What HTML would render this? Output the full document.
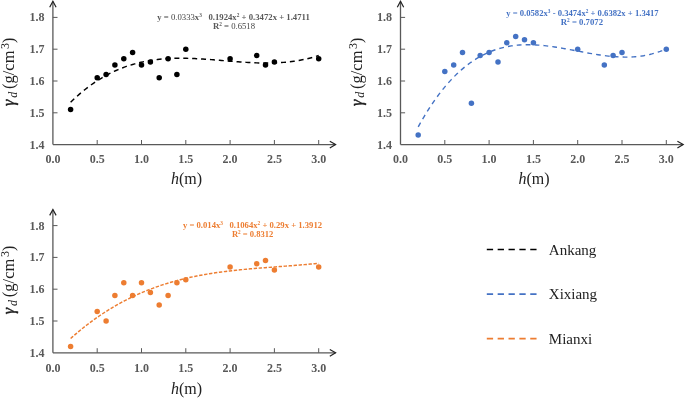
<!DOCTYPE html>
<html><head><meta charset="utf-8"><style>
html,body{margin:0;padding:0;background:#fff;}
svg{display:block;will-change:transform;}
text{font-family:"Liberation Serif",serif;}
.tl{font-size:12px;font-weight:bold;fill:#595959;}
.at{font-size:16px;fill:#222;}
.eq{font-size:9px;font-weight:bold;white-space:pre;}
.lg{font-size:15px;fill:#222;}
</style></head><body>
<svg width="685" height="398" viewBox="0 0 685 398">
<rect width="685" height="398" fill="#fff"/>
<path d="M52.9 144.6V1.6M52.9 144.6H335.5" stroke="#595959" stroke-width="1.3" fill="none"/>
<path d="M49.7 7.2L52.9 1.3L56.1 7.2" stroke="#222" stroke-width="1.2" fill="none"/>
<path d="M329.8 141.2L335.6 144.6L329.8 148.0" stroke="#222" stroke-width="1.2" fill="none"/>
<path d="M52.9 112.8h4.6M52.9 81.0h4.6M52.9 49.2h4.6M52.9 17.4h4.6M97.2 144.6v-4.6M141.5 144.6v-4.6M185.8 144.6v-4.6M230.1 144.6v-4.6M274.4 144.6v-4.6M318.7 144.6v-4.6" stroke="#595959" stroke-width="1" fill="none"/>
<text x="44.5" y="148.5" text-anchor="end" class="tl">1.4</text>
<text x="44.5" y="116.7" text-anchor="end" class="tl">1.5</text>
<text x="44.5" y="84.9" text-anchor="end" class="tl">1.6</text>
<text x="44.5" y="53.1" text-anchor="end" class="tl">1.7</text>
<text x="44.5" y="21.3" text-anchor="end" class="tl">1.8</text>
<text x="52.9" y="163.4" text-anchor="middle" class="tl">0.0</text>
<text x="97.2" y="163.4" text-anchor="middle" class="tl">0.5</text>
<text x="141.5" y="163.4" text-anchor="middle" class="tl">1.0</text>
<text x="185.8" y="163.4" text-anchor="middle" class="tl">1.5</text>
<text x="230.1" y="163.4" text-anchor="middle" class="tl">2.0</text>
<text x="274.4" y="163.4" text-anchor="middle" class="tl">2.5</text>
<text x="318.7" y="163.4" text-anchor="middle" class="tl">3.0</text>
<text x="186.5" y="184.0" text-anchor="middle" class="at"><tspan font-style="italic">h</tspan>(m)</text>
<g transform="translate(14.2 106.5) rotate(-90)" class="at"><text x="0.4" y="0" font-style="italic" font-size="16" stroke="#222" stroke-width="0.45">γ</text><text x="8.7" y="2.6" font-style="italic" font-size="12">d</text><text x="17.5" y="0" font-size="16.5">(g/cm</text><text x="57.6" y="-5" font-size="12">3</text><text x="63.6" y="0">)</text></g>
<polyline points="70.62,102.27 72.69,100.27 74.75,98.32 76.82,96.43 78.89,94.60 80.96,92.83 83.02,91.11 85.09,89.44 87.16,87.83 89.23,86.28 91.29,84.77 93.36,83.32 95.43,81.92 97.50,80.57 99.56,79.27 101.63,78.01 103.70,76.80 105.76,75.64 107.83,74.53 109.90,73.46 111.97,72.44 114.03,71.46 116.10,70.52 118.17,69.62 120.24,68.77 122.30,67.96 124.37,67.18 126.44,66.44 128.51,65.75 130.57,65.09 132.64,64.46 134.71,63.87 136.77,63.32 138.84,62.80 140.91,62.31 142.98,61.85 145.04,61.43 147.11,61.03 149.18,60.67 151.25,60.34 153.31,60.03 155.38,59.75 157.45,59.50 159.52,59.27 161.58,59.07 163.65,58.89 165.72,58.74 167.78,58.61 169.85,58.50 171.92,58.41 173.99,58.34 176.05,58.29 178.12,58.26 180.19,58.25 182.26,58.25 184.32,58.27 186.39,58.31 188.46,58.36 190.53,58.42 192.59,58.50 194.66,58.59 196.73,58.69 198.79,58.80 200.86,58.92 202.93,59.05 205.00,59.19 207.06,59.33 209.13,59.48 211.20,59.64 213.27,59.80 215.33,59.96 217.40,60.13 219.47,60.30 221.54,60.48 223.60,60.65 225.67,60.82 227.74,60.99 229.80,61.16 231.87,61.33 233.94,61.50 236.01,61.66 238.07,61.81 240.14,61.96 242.21,62.11 244.28,62.25 246.34,62.37 248.41,62.49 250.48,62.60 252.55,62.70 254.61,62.79 256.68,62.87 258.75,62.93 260.81,62.98 262.88,63.01 264.95,63.03 267.02,63.04 269.08,63.02 271.15,62.99 273.22,62.94 275.29,62.87 277.35,62.78 279.42,62.67 281.49,62.54 283.56,62.38 285.62,62.20 287.69,62.00 289.76,61.77 291.82,61.52 293.89,61.24 295.96,60.93 298.03,60.59 300.09,60.23 302.16,59.83 304.23,59.41 306.30,58.95 308.36,58.46 310.43,57.94 312.50,57.38 314.57,56.79 316.63,56.16 318.70,55.50" fill="none" stroke="#000000" stroke-width="1.45" stroke-dasharray="5 3.9"/>
<circle cx="70.6" cy="109.6" r="2.75" fill="#000000"/>
<circle cx="97.2" cy="77.8" r="2.75" fill="#000000"/>
<circle cx="106.1" cy="74.6" r="2.75" fill="#000000"/>
<circle cx="114.9" cy="65.1" r="2.75" fill="#000000"/>
<circle cx="123.8" cy="58.7" r="2.75" fill="#000000"/>
<circle cx="132.6" cy="52.4" r="2.75" fill="#000000"/>
<circle cx="141.5" cy="65.1" r="2.75" fill="#000000"/>
<circle cx="150.4" cy="61.9" r="2.75" fill="#000000"/>
<circle cx="159.2" cy="77.8" r="2.75" fill="#000000"/>
<circle cx="168.1" cy="58.7" r="2.75" fill="#000000"/>
<circle cx="176.9" cy="74.6" r="2.75" fill="#000000"/>
<circle cx="185.8" cy="49.2" r="2.75" fill="#000000"/>
<circle cx="230.1" cy="58.7" r="2.75" fill="#000000"/>
<circle cx="256.7" cy="55.6" r="2.75" fill="#000000"/>
<circle cx="265.5" cy="65.1" r="2.75" fill="#000000"/>
<circle cx="274.4" cy="61.9" r="2.75" fill="#000000"/>
<circle cx="318.7" cy="58.7" r="2.75" fill="#000000"/>
<text x="157.3" y="19.7" class="eq" textLength="152.5" lengthAdjust="spacingAndGlyphs" fill="#595959">y<tspan font-weight="normal" fill="#444"> = 0.0333</tspan>x<tspan baseline-shift="super" font-size="5.5">3</tspan>   0.1924x<tspan baseline-shift="super" font-size="5.5">2</tspan> + 0.3472x + 1.4711</text>
<text x="213" y="29.2" class="eq" textLength="42" lengthAdjust="spacingAndGlyphs" fill="#595959">R<tspan baseline-shift="super" font-size="5.5">2</tspan><tspan font-weight="normal" fill="#444"> = 0.6518</tspan></text>
<path d="M400.5 144.6V1.6M400.5 144.6H683.1" stroke="#595959" stroke-width="1.3" fill="none"/>
<path d="M397.3 7.2L400.5 1.3L403.7 7.2" stroke="#222" stroke-width="1.2" fill="none"/>
<path d="M677.4 141.2L683.2 144.6L677.4 148.0" stroke="#222" stroke-width="1.2" fill="none"/>
<path d="M400.5 112.8h4.6M400.5 81.0h4.6M400.5 49.2h4.6M400.5 17.4h4.6M444.8 144.6v-4.6M489.1 144.6v-4.6M533.4 144.6v-4.6M577.7 144.6v-4.6M622.0 144.6v-4.6M666.3 144.6v-4.6" stroke="#595959" stroke-width="1" fill="none"/>
<text x="392.1" y="148.5" text-anchor="end" class="tl">1.4</text>
<text x="392.1" y="116.7" text-anchor="end" class="tl">1.5</text>
<text x="392.1" y="84.9" text-anchor="end" class="tl">1.6</text>
<text x="392.1" y="53.1" text-anchor="end" class="tl">1.7</text>
<text x="392.1" y="21.3" text-anchor="end" class="tl">1.8</text>
<text x="400.5" y="163.4" text-anchor="middle" class="tl">0.0</text>
<text x="444.8" y="163.4" text-anchor="middle" class="tl">0.5</text>
<text x="489.1" y="163.4" text-anchor="middle" class="tl">1.0</text>
<text x="533.4" y="163.4" text-anchor="middle" class="tl">1.5</text>
<text x="577.7" y="163.4" text-anchor="middle" class="tl">2.0</text>
<text x="622.0" y="163.4" text-anchor="middle" class="tl">2.5</text>
<text x="666.3" y="163.4" text-anchor="middle" class="tl">3.0</text>
<text x="534.1" y="184.0" text-anchor="middle" class="at"><tspan font-style="italic">h</tspan>(m)</text>
<g transform="translate(361.8 106.5) rotate(-90)" class="at"><text x="0.4" y="0" font-style="italic" font-size="16" stroke="#222" stroke-width="0.45">γ</text><text x="8.7" y="2.6" font-style="italic" font-size="12">d</text><text x="17.5" y="0" font-size="16.5">(g/cm</text><text x="57.6" y="-5" font-size="12">3</text><text x="63.6" y="0">)</text></g>
<polyline points="418.22,126.82 420.29,123.12 422.35,119.52 424.42,116.03 426.49,112.65 428.56,109.36 430.62,106.18 432.69,103.10 434.76,100.11 436.83,97.23 438.89,94.43 440.96,91.74 443.03,89.13 445.10,86.62 447.16,84.19 449.23,81.86 451.30,79.61 453.36,77.45 455.43,75.37 457.50,73.37 459.57,71.46 461.63,69.62 463.70,67.87 465.77,66.19 467.84,64.58 469.90,63.06 471.97,61.60 474.04,60.22 476.11,58.90 478.17,57.66 480.24,56.48 482.31,55.37 484.37,54.32 486.44,53.33 488.51,52.41 490.58,51.55 492.64,50.74 494.71,50.00 496.78,49.31 498.85,48.67 500.91,48.09 502.98,47.56 505.05,47.08 507.12,46.64 509.18,46.26 511.25,45.92 513.32,45.63 515.38,45.38 517.45,45.17 519.52,45.00 521.59,44.87 523.65,44.78 525.72,44.73 527.79,44.71 529.86,44.72 531.92,44.77 533.99,44.84 536.06,44.95 538.13,45.08 540.19,45.24 542.26,45.43 544.33,45.64 546.39,45.87 548.46,46.12 550.53,46.39 552.60,46.68 554.66,46.98 556.73,47.30 558.80,47.63 560.87,47.98 562.93,48.34 565.00,48.70 567.07,49.08 569.14,49.46 571.20,49.84 573.27,50.23 575.34,50.63 577.40,51.02 579.47,51.41 581.54,51.80 583.61,52.19 585.67,52.57 587.74,52.95 589.81,53.32 591.88,53.68 593.94,54.03 596.01,54.37 598.08,54.70 600.15,55.01 602.21,55.30 604.28,55.58 606.35,55.84 608.41,56.08 610.48,56.30 612.55,56.49 614.62,56.66 616.68,56.80 618.75,56.92 620.82,57.01 622.89,57.07 624.95,57.09 627.02,57.09 629.09,57.05 631.16,56.97 633.22,56.86 635.29,56.71 637.36,56.52 639.42,56.28 641.49,56.01 643.56,55.69 645.63,55.32 647.69,54.91 649.76,54.45 651.83,53.94 653.90,53.38 655.96,52.76 658.03,52.09 660.10,51.37 662.17,50.59 664.23,49.75 666.30,48.85" fill="none" stroke="#4472C4" stroke-width="1.4" stroke-dasharray="4.8 4.1"/>
<circle cx="418.2" cy="135.1" r="2.75" fill="#4472C4"/>
<circle cx="444.8" cy="71.5" r="2.75" fill="#4472C4"/>
<circle cx="453.7" cy="65.1" r="2.75" fill="#4472C4"/>
<circle cx="462.5" cy="52.4" r="2.75" fill="#4472C4"/>
<circle cx="471.4" cy="103.3" r="2.75" fill="#4472C4"/>
<circle cx="480.2" cy="55.6" r="2.75" fill="#4472C4"/>
<circle cx="489.1" cy="52.4" r="2.75" fill="#4472C4"/>
<circle cx="498.0" cy="61.9" r="2.75" fill="#4472C4"/>
<circle cx="506.8" cy="42.8" r="2.75" fill="#4472C4"/>
<circle cx="515.7" cy="36.5" r="2.75" fill="#4472C4"/>
<circle cx="524.5" cy="39.7" r="2.75" fill="#4472C4"/>
<circle cx="533.4" cy="42.8" r="2.75" fill="#4472C4"/>
<circle cx="577.7" cy="49.2" r="2.75" fill="#4472C4"/>
<circle cx="604.3" cy="65.1" r="2.75" fill="#4472C4"/>
<circle cx="613.1" cy="55.6" r="2.75" fill="#4472C4"/>
<circle cx="622.0" cy="52.4" r="2.75" fill="#4472C4"/>
<circle cx="666.3" cy="49.2" r="2.75" fill="#4472C4"/>
<text x="506.2" y="16.2" class="eq" textLength="152.5" lengthAdjust="spacingAndGlyphs" fill="#4472C4">y = 0.0582x<tspan baseline-shift="super" font-size="5.5">3</tspan> - 0.3474x<tspan baseline-shift="super" font-size="5.5">2</tspan> + 0.6382x + 1.3417</text>
<text x="560.8" y="25.3" class="eq" textLength="42.2" lengthAdjust="spacingAndGlyphs" fill="#4472C4">R<tspan baseline-shift="super" font-size="5.5">2</tspan> = 0.7072</text>
<path d="M52.9 352.8V209.8M52.9 352.8H335.5" stroke="#595959" stroke-width="1.3" fill="none"/>
<path d="M49.7 215.4L52.9 209.5L56.1 215.4" stroke="#222" stroke-width="1.2" fill="none"/>
<path d="M329.8 349.4L335.6 352.8L329.8 356.2" stroke="#222" stroke-width="1.2" fill="none"/>
<path d="M52.9 321.0h4.6M52.9 289.2h4.6M52.9 257.4h4.6M52.9 225.6h4.6M97.2 352.8v-4.6M141.5 352.8v-4.6M185.8 352.8v-4.6M230.1 352.8v-4.6M274.4 352.8v-4.6M318.7 352.8v-4.6" stroke="#595959" stroke-width="1" fill="none"/>
<text x="44.5" y="356.7" text-anchor="end" class="tl">1.4</text>
<text x="44.5" y="324.9" text-anchor="end" class="tl">1.5</text>
<text x="44.5" y="293.1" text-anchor="end" class="tl">1.6</text>
<text x="44.5" y="261.3" text-anchor="end" class="tl">1.7</text>
<text x="44.5" y="229.5" text-anchor="end" class="tl">1.8</text>
<text x="52.9" y="371.6" text-anchor="middle" class="tl">0.0</text>
<text x="97.2" y="371.6" text-anchor="middle" class="tl">0.5</text>
<text x="141.5" y="371.6" text-anchor="middle" class="tl">1.0</text>
<text x="185.8" y="371.6" text-anchor="middle" class="tl">1.5</text>
<text x="230.1" y="371.6" text-anchor="middle" class="tl">2.0</text>
<text x="274.4" y="371.6" text-anchor="middle" class="tl">2.5</text>
<text x="318.7" y="371.6" text-anchor="middle" class="tl">3.0</text>
<text x="186.5" y="394.2" text-anchor="middle" class="at"><tspan font-style="italic">h</tspan>(m)</text>
<g transform="translate(14.2 314.7) rotate(-90)" class="at"><text x="0.4" y="0" font-style="italic" font-size="16" stroke="#222" stroke-width="0.45">γ</text><text x="8.7" y="2.6" font-style="italic" font-size="12">d</text><text x="17.5" y="0" font-size="16.5">(g/cm</text><text x="57.6" y="-5" font-size="12">3</text><text x="63.6" y="0">)</text></g>
<polyline points="70.62,338.47 72.69,336.64 74.75,334.84 76.82,333.08 78.89,331.35 80.96,329.65 83.02,327.98 85.09,326.34 87.16,324.74 89.23,323.17 91.29,321.63 93.36,320.12 95.43,318.64 97.50,317.19 99.56,315.76 101.63,314.37 103.70,313.01 105.76,311.67 107.83,310.37 109.90,309.09 111.97,307.84 114.03,306.61 116.10,305.42 118.17,304.24 120.24,303.10 122.30,301.98 124.37,300.89 126.44,299.82 128.51,298.78 130.57,297.76 132.64,296.76 134.71,295.79 136.77,294.84 138.84,293.92 140.91,293.02 142.98,292.14 145.04,291.28 147.11,290.44 149.18,289.63 151.25,288.83 153.31,288.06 155.38,287.31 157.45,286.58 159.52,285.86 161.58,285.17 163.65,284.50 165.72,283.84 167.78,283.20 169.85,282.58 171.92,281.98 173.99,281.40 176.05,280.83 178.12,280.28 180.19,279.74 182.26,279.23 184.32,278.72 186.39,278.23 188.46,277.76 190.53,277.30 192.59,276.86 194.66,276.43 196.73,276.01 198.79,275.61 200.86,275.22 202.93,274.84 205.00,274.48 207.06,274.12 209.13,273.78 211.20,273.45 213.27,273.13 215.33,272.82 217.40,272.52 219.47,272.23 221.54,271.95 223.60,271.68 225.67,271.42 227.74,271.16 229.80,270.92 231.87,270.68 233.94,270.45 236.01,270.23 238.07,270.01 240.14,269.80 242.21,269.60 244.28,269.40 246.34,269.21 248.41,269.02 250.48,268.84 252.55,268.66 254.61,268.48 256.68,268.31 258.75,268.15 260.81,267.98 262.88,267.82 264.95,267.66 267.02,267.50 269.08,267.35 271.15,267.20 273.22,267.04 275.29,266.89 277.35,266.74 279.42,266.59 281.49,266.43 283.56,266.28 285.62,266.13 287.69,265.97 289.76,265.82 291.82,265.66 293.89,265.50 295.96,265.33 298.03,265.16 300.09,264.99 302.16,264.82 304.23,264.64 306.30,264.46 308.36,264.27 310.43,264.08 312.50,263.88 314.57,263.68 316.63,263.47 318.70,263.25" fill="none" stroke="#ED7D31" stroke-width="1.45" stroke-dasharray="3.4 1.6"/>
<circle cx="70.6" cy="346.4" r="2.75" fill="#ED7D31"/>
<circle cx="97.2" cy="311.5" r="2.75" fill="#ED7D31"/>
<circle cx="106.1" cy="321.0" r="2.75" fill="#ED7D31"/>
<circle cx="114.9" cy="295.6" r="2.75" fill="#ED7D31"/>
<circle cx="123.8" cy="282.8" r="2.75" fill="#ED7D31"/>
<circle cx="132.6" cy="295.6" r="2.75" fill="#ED7D31"/>
<circle cx="141.5" cy="282.8" r="2.75" fill="#ED7D31"/>
<circle cx="150.4" cy="292.4" r="2.75" fill="#ED7D31"/>
<circle cx="159.2" cy="305.1" r="2.75" fill="#ED7D31"/>
<circle cx="168.1" cy="295.6" r="2.75" fill="#ED7D31"/>
<circle cx="176.9" cy="282.8" r="2.75" fill="#ED7D31"/>
<circle cx="185.8" cy="279.7" r="2.75" fill="#ED7D31"/>
<circle cx="230.1" cy="266.9" r="2.75" fill="#ED7D31"/>
<circle cx="256.7" cy="263.8" r="2.75" fill="#ED7D31"/>
<circle cx="265.5" cy="260.6" r="2.75" fill="#ED7D31"/>
<circle cx="274.4" cy="270.1" r="2.75" fill="#ED7D31"/>
<circle cx="318.7" cy="266.9" r="2.75" fill="#ED7D31"/>
<text x="182.9" y="227.9" class="eq" textLength="139.2" lengthAdjust="spacingAndGlyphs" fill="#ED7D31">y = 0.014x<tspan baseline-shift="super" font-size="5.5">3</tspan>   0.1064x<tspan baseline-shift="super" font-size="5.5">2</tspan> + 0.29x + 1.3912</text>
<text x="231.9" y="237.2" class="eq" textLength="41.5" lengthAdjust="spacingAndGlyphs" fill="#ED7D31">R<tspan baseline-shift="super" font-size="5.5">2</tspan> = 0.8312</text>
<line x1="486.8" y1="249.5" x2="536.8" y2="249.5" stroke="#000000" stroke-width="1.7" stroke-dasharray="6.3 4.56"/>
<text x="548.8" y="254.6" class="lg">Ankang</text>
<line x1="486.8" y1="294.2" x2="536.8" y2="294.2" stroke="#4472C4" stroke-width="1.7" stroke-dasharray="6.3 4.56"/>
<text x="548.8" y="299.3" class="lg">Xixiang</text>
<line x1="486.8" y1="338.6" x2="536.8" y2="338.6" stroke="#ED7D31" stroke-width="1.7" stroke-dasharray="6.3 4.56"/>
<text x="548.8" y="343.7" class="lg">Mianxi</text>
</svg>
</body></html>
